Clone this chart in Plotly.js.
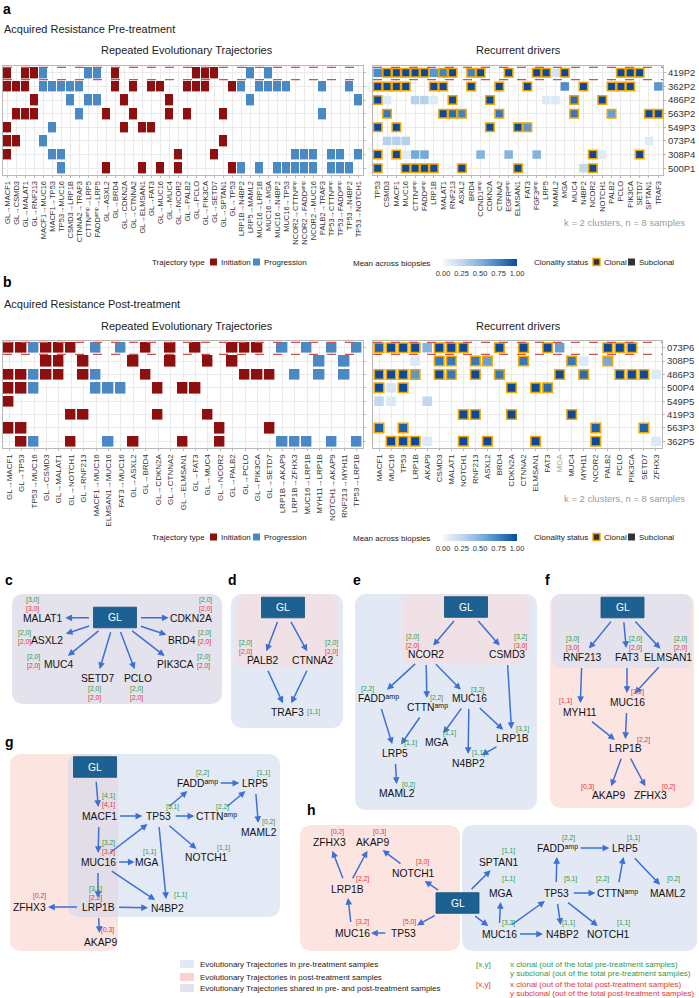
<!DOCTYPE html>
<html><head><meta charset="utf-8">
<script src="https://cdn.plot.ly/plotly-3.0.1.min.js"></script>
<style>html,body{margin:0;padding:0;background:#fff;}#chart{width:699px;height:998px;}</style>
</head><body><div id="chart"></div>
<script>
const _ = null;
const AMPSUP = 'ᵃᵐᵖ';
// ================= DATA =================
// ---- panel a : pre-treatment ----
const preSamples = ['419P2','362P2','486P2','563P2','549P3','073P4','308P4','500P1'];
const preTrajectories = ['GL→MACF1','GL→CSMD3','GL→MALAT1','GL→RNF213','MACF1→MUC16','MACF1→TP53','TP53→MUC16','CSMD3→LRP1B','CTNNA2→TRAF3','CTTNᵃᵐᵖ→LRP5','FADDᵃᵐᵖ→LRP5','GL→ASXL2','GL→BRD4','GL→CDKN2A','GL→CTNNA2','GL→ELMSAN1','GL→FAT3','GL→MUC16','GL→MUC4','GL→NCOR2','GL→PALB2','GL→PCLO','GL→PIK3CA','GL→SETD7','GL→SPTAN1','GL→TP53','LRP1B→N4BP2','LRP5→MAML2','MUC16→LRP1B','MUC16→MGA','MUC16→N4BP2','MUC16→TP53','NCOR2→CTTNᵃᵐᵖ','NCOR2→FADDᵃᵐᵖ','NCOR2→MUC16','PALB2→TRAF3','TP53→CTTNᵃᵐᵖ','TP53→FADDᵃᵐᵖ','TP53→N4BP2','TP53→NOTCH1'];
const preTrajPresence = [
 [1,0,1,1,1,0,0,0,0,1, 1,0,1,0,0,0,0,0,0,0, 0,1,1,1,0,0,0,1,0,1, 0,0,0,0,0,0,0,0,0,0],
 [1,1,1,0,1,1,1,1,1,0, 0,0,1,0,1,0,1,1,0,0, 1,1,1,0,0,1,1,0,1,1, 1,1,0,0,0,1,0,0,1,0],
 [0,0,0,1,0,0,0,1,0,1, 1,0,0,1,0,0,0,0,1,0, 0,0,0,0,0,0,0,1,0,0, 0,0,0,0,0,0,0,0,0,1],
 [0,1,1,1,0,0,0,0,1,0, 0,1,0,0,1,0,0,0,1,0, 1,0,0,0,1,0,0,0,0,0, 0,0,0,0,0,1,0,0,0,0],
 [1,0,0,0,0,1,0,0,0,0, 0,0,0,1,0,1,1,0,0,0, 0,0,0,0,0,0,0,0,0,0, 0,0,0,0,0,0,0,0,0,0],
 [1,1,0,0,1,0,0,0,0,0, 0,0,0,0,0,0,0,0,0,0, 0,0,0,0,1,0,0,0,0,0, 0,0,0,0,0,0,0,0,0,0],
 [1,0,0,0,0,1,1,0,0,0, 0,0,0,0,0,0,0,0,0,1, 0,0,0,1,0,0,0,0,0,0, 0,0,1,1,1,0,1,1,0,1],
 [0,0,0,0,0,0,1,0,0,0, 0,1,0,0,0,1,0,1,0,1, 0,0,0,0,0,1,1,0,1,0, 1,1,1,1,1,0,1,1,1,0]
];
const preDrivers = ['TP53','CSMD3','MACF1','MUC16','CTTNᵃᵐᵖ','FADDᵃᵐᵖ','LRP1B','MALAT1','RNF213','ASXL2','BRD4','CCND1ᵃᵐᵖ','CDKN2A','CTNNA2','EGFRᵃᵐᵖ','ELMSAN1','FAT3','FGF3ᵃᵐᵖ','LRP5','MAML2','MGA','MUC4','N4BP2','NCOR2','NOTCH1','PALB2','PCLO','PIK3CA','SETD7','SPTAN1','TRAF3'];
const preDriverMean = [
 [.7,1,1,1,1,1,.65,.75,1,_, .75,1,_,_,1,_,_,1,1,.15, 1,_,_,_,_,_,1,1,1,_, _],
 [1,1,1,1,_,_,1,1,_,_, 1,_,_,1,_,_,1,_,_,_, .7,_,1,_,_,1,1,1,_,_, .65],
 [1,.12,_,_,.3,.3,.12,_,1,_, _,_,1,_,_,_,_,_,.12,.12, _,.85,_,_,1,_,_,_,_,_, _],
 [_,.8,_,_,_,_,_,1,.85,.75, _,_,_,.8,_,_,_,_,_,_, _,.8,_,_,_,.6,_,_,_,1, 1],
 [1,_,1,_,_,_,_,_,_,_, _,_,1,_,_,1,.65,_,_,_, _,_,_,_,_,_,_,_,_,_, _],
 [_,.3,.3,.3,_,_,_,_,_,_, _,_,_,_,_,_,_,_,_,_, _,_,_,_,_,_,_,_,_,.1, _],
 [1,_,1,.1,.55,.55,_,_,_,_, _,.5,_,_,.5,_,_,.5,_,_, _,_,_,1,.1,_,_,_,1,_, _],
 [1,_,_,1,1,1,1,_,_,1, _,_,_,_,_,1,_,_,_,_, _,_,.25,1,_,_,_,_,_,_, _]
];
const preDriverClonal = [
 [0,1,1,1,1,1,0,1,1,0, 1,1,0,0,1,0,0,1,1,0, 1,0,0,0,0,0,1,1,1,0, 0],
 [1,1,1,1,0,0,1,1,0,0, 1,0,0,1,0,0,1,0,0,0, 0,0,1,0,0,1,1,1,0,0, 0],
 [1,0,0,0,0,0,0,0,1,0, 0,0,1,0,0,0,0,0,0,0, 0,1,0,0,1,0,0,0,0,0, 0],
 [0,1,0,0,0,0,0,1,1,1, 0,0,0,1,0,0,0,0,0,0, 0,1,0,0,0,1,0,0,0,1, 1],
 [1,0,1,0,0,0,0,0,0,0, 0,0,1,0,0,1,1,0,0,0, 0,0,0,0,0,0,0,0,0,0, 0],
 [0,0,0,0,0,0,0,0,0,0, 0,0,0,0,0,0,0,0,0,0, 0,0,0,0,0,0,0,0,0,0, 0],
 [1,0,1,0,0,0,0,0,0,0, 0,0,0,0,0,0,0,0,0,0, 0,0,0,1,0,0,0,0,1,0, 0],
 [1,0,0,1,1,1,1,0,0,1, 0,0,0,0,0,1,0,0,0,0, 0,0,0,1,0,0,0,0,0,0, 0]
];
// ---- panel b : post-treatment ----
const postSamples = ['073P6','308P5','486P3','500P4','549P5','419P3','563P3','362P5'];
const postTrajectories = ['GL→MACF1','GL→TP53','TP53→MUC16','GL→CSMD3','GL→MALAT1','GL→NOTCH1','GL→RNF213','MACF1→MUC16','ELMSAN1→MUC16','FAT3→MUC16','GL→ASXL2','GL→BRD4','GL→CDKN2A','GL→CTNNA2','GL→ELMSAN1','GL→FAT3','GL→MUC4','GL→NCOR2','GL→PALB2','GL→PCLO','GL→PIK3CA','GL→SETD7','LRP1B→AKAP9','LRP1B→ZFHX3','MUC16→LRP1B','MYH11→LRP1B','NOTCH1→AKAP9','RNF213→MYH11','TP53→LRP1B'];
const postTrajPresence = [
 [1,1,1,1,1,1,0,1,0,1, 0,1,0,1,0,1,0,0,1,1, 1,0,1,0,1,0,1,0,1],
 [0,0,0,1,1,0,1,0,0,0, 1,0,0,1,0,0,1,0,1,0, 0,0,0,0,0,1,0,1,0],
 [1,1,1,1,1,0,1,1,0,0, 0,1,0,0,0,0,0,0,0,1, 1,1,0,1,0,1,0,1,0],
 [1,1,1,0,0,0,0,1,1,1, 0,0,1,0,1,1,0,0,0,0, 0,0,0,0,0,0,0,0,0],
 [1,0,0,0,0,0,0,0,0,0, 0,0,0,0,0,0,0,0,0,0, 0,0,0,0,0,0,0,0,0],
 [0,0,0,0,0,1,1,0,0,0, 0,0,1,0,0,0,1,0,0,0, 0,0,0,0,0,0,0,0,0],
 [1,1,0,0,0,0,0,0,0,0, 0,0,0,0,0,0,0,1,0,0, 0,1,0,0,0,0,0,0,0],
 [0,1,1,0,0,1,0,0,1,0, 1,0,0,0,1,0,0,1,0,0, 0,0,1,1,1,0,1,0,1]
];
const postDrivers = ['MACF1','MUC16','TP53','LRP1B','AKAP9','CSMD3','MALAT1','NOTCH1','RNF213','ASXL2','BRD4','CDKN2A','CTNNA2','ELMSAN1','FAT3','MGA','MUC4','MYH11','NCOR2','PALB2','PCLO','PIK3CA','SETD7','ZFHX3'];
const postDriverMean = [
 [.9,1,1,1,.5,1,1,1,_,_, 1,_,1,_,1,.6,_,_,_,1, 1,1,_,_],
 [_,_,_,.12,_,.8,.8,_,.8,.6, _,_,.8,_,_,_,.8,.12,_,.55, _,_,_,_],
 [1,1,1,.65,_,1,.8,_,1,_, .8,_,_,_,_,1,_,.85,_,_, 1,1,1,.12],
 [1,.15,1,_,_,_,_,_,_,_, _,1,_,1,.85,_,_,_,_,_, _,_,_,_],
 [.25,.12,_,_,.25,_,_,_,_,_, _,_,_,_,_,_,_,_,_,_, _,_,_,_],
 [_,_,_,_,_,_,_,1,1,_, _,1,_,_,_,_,1,_,_,_, _,_,_,_],
 [.9,_,.9,_,_,_,_,_,_,_, _,_,_,_,_,_,_,_,.9,_, _,_,.9,_],
 [_,1,1,1,.12,_,_,1,_,1, _,_,_,1,_,_,_,_,1,_, _,_,_,.12]
];
const postDriverClonal = [
 [1,1,1,1,0,1,1,1,0,0, 1,0,1,0,1,0,0,0,0,1, 1,1,0,0],
 [0,0,0,0,0,1,1,0,1,1, 0,0,1,0,0,0,1,0,0,1, 0,0,0,0],
 [1,1,1,1,0,1,1,0,1,0, 1,0,0,0,0,1,0,1,0,0, 1,1,1,0],
 [1,0,1,0,0,0,0,0,0,0, 0,1,0,1,1,0,0,0,0,0, 0,0,0,0],
 [0,0,0,0,0,0,0,0,0,0, 0,0,0,0,0,0,0,0,0,0, 0,0,0,0],
 [0,0,0,0,0,0,0,1,1,0, 0,1,0,0,0,0,1,0,0,0, 0,0,0,0],
 [1,0,1,0,0,0,0,0,0,0, 0,0,0,0,0,0,0,0,1,0, 0,0,1,0],
 [0,1,1,1,0,0,0,1,0,1, 0,0,0,1,0,0,0,0,1,0, 0,0,0,0]
];
// ---- networks c-h: edges and [clonal, subclonal] counts ----
const cEdges = [['GL','MALAT1'],['GL','CDKN2A'],['GL','ASXL2'],['GL','BRD4'],['GL','MUC4'],['GL','PIK3CA'],['GL','SETD7'],['GL','PCLO']];
const cCountNodes = ['MALAT1','CDKN2A','ASXL2','BRD4','MUC4','PIK3CA','SETD7','PCLO'];
const cPre  = [[3,0],[2,0],[2,0],[2,0],[2,0],[2,0],[2,0],[2,0]];
const cPost = [[3,0],[2,0],[2,0],[2,0],[2,0],[2,0],[2,0],[2,0]];
const dEdges = [['GL','PALB2'],['GL','CTNNA2'],['PALB2','TRAF3'],['CTNNA2','TRAF3']];
const dCountNodes = ['PALB2','CTNNA2','TRAF3'];
const dPre  = [[2,0],[2,0],[1,1]];
const dPost = [[2,0],[2,0],_];
const eEdges = [['GL','NCOR2'],['GL','CSMD3'],['NCOR2','FADD'],['NCOR2','CTTN'],['NCOR2','MUC16'],['CSMD3','LRP1B'],['FADD','LRP5'],['CTTN','LRP5'],['MUC16','MGA'],['MUC16','N4BP2'],['MUC16','LRP1B'],['LRP1B','N4BP2'],['LRP5','MAML2']];
const eCountNodes = ['NCOR2','CSMD3','FADD','CTTN','MUC16','LRP5','MGA','LRP1B','N4BP2','MAML2'];
const ePre  = [[2,0],[3,2],[2,2],[2,2],[3,2],[1,1],[1,1],[3,1],[1,1],[0,2]];
const ePost = [[2,0],[3,0],_,_,_,_,_,_,_,_];
const fEdges = [['GL','RNF213'],['GL','FAT3'],['GL','ELMSAN1'],['RNF213','MYH11'],['FAT3','MUC16'],['ELMSAN1','MUC16'],['MYH11','LRP1B'],['MUC16','LRP1B'],['LRP1B','AKAP9'],['LRP1B','ZFHX3']];
const fCountNodes = ['RNF213','FAT3','ELMSAN1','MYH11','MUC16','LRP1B','AKAP9','ZFHX3'];
const fPre  = [[3,0],[2,0],[2,0],_,_,_,_,_];
const fPost = [[3,0],[2,0],[2,0],[1,1],[3,2],[2,2],[0,3],[0,2]];
const gEdges = [['GL','MACF1'],['MACF1','TP53'],['MACF1','MUC16'],['TP53','FADD'],['TP53','CTTN'],['FADD','LRP5'],['CTTN','LRP5'],['LRP5','MAML2'],['MUC16','TP53'],['MUC16','MGA'],['MUC16','N4BP2'],['MUC16','LRP1B'],['TP53','NOTCH1'],['TP53','N4BP2'],['LRP1B','N4BP2'],['LRP1B','ZFHX3'],['LRP1B','AKAP9']];
const gCountNodes = ['MACF1','TP53','FADD','LRP5','CTTN','MAML2','MUC16','MGA','NOTCH1','LRP1B','N4BP2','ZFHX3','AKAP9'];
const gPre  = [[4,1],[5,1],[2,2],[1,1],[2,2],[0,2],[3,2],[1,1],[1,1],[3,1],[1,1],_,_];
const gPost = [[4,1],_,_,_,_,_,[3,2],_,_,[2,2],_,[0,2],[0,3]];
const hEdges = [['GL','TP53_L'],['TP53_L','MUC16_L'],['MUC16_L','LRP1B'],['LRP1B','ZFHX3'],['LRP1B','AKAP9'],['GL','NOTCH1_L'],['NOTCH1_L','AKAP9'],['GL','SPTAN1'],['GL','MUC16'],['MUC16','MGA'],['MUC16','TP53'],['MUC16','N4BP2'],['TP53','FADD'],['TP53','CTTN'],['TP53','N4BP2'],['TP53','NOTCH1'],['FADD','LRP5'],['CTTN','LRP5'],['LRP5','MAML2']];
const hCountNodes = ['ZFHX3','AKAP9','NOTCH1_L','LRP1B','MUC16_L','TP53_L','SPTAN1','FADD','LRP5','MGA','TP53','CTTN','MAML2','MUC16','N4BP2','NOTCH1'];
const hPre  = [_,_,_,_,_,_,[1,1],[2,2],[1,1],[1,1],[5,1],[2,2],[0,2],[3,2],[1,1],[1,1]];
const hPost = [[0,2],[0,3],[3,0],[2,2],[3,2],[5,0],_,_,_,_,_,_,_,_,_,_];

// ================= LAYOUT (positions in page pixels) =================
const cPos = {GL:[115,617.5],MALAT1:[43,618],CDKN2A:[191,618],ASXL2:[47,640],BRD4:[182,640],MUC4:[58,664],PIK3CA:[175,664],SETD7:[97,678],PCLO:[138,678]};
const cCountPos = [[32,600],[205,600],[24,633],[204,633],[33,657],[203,657],[94,689],[136,689]];
const dPos = {GL:[283,607.5],PALB2:[263,660],CTNNA2:[312,660],TRAF3:[287,712]};
const dCountPos = [[245,643],[331,643],[313,712]];
const ePos = {GL:[466,607],NCOR2:[426,654],CSMD3:[507,654],FADD:[378,698],CTTN:[427,707],MUC16:[469,698],LRP5:[395,753],MGA:[437,742],LRP1B:[512,738],N4BP2:[468,763],MAML2:[397,793]};
const eCountPos = [[412,637],[520,637],[367,689],[436,698],[477,690],[410,743],[449,733],[522,729],[478,753],[408,785]];
const fPos = {GL:[622.5,607.5],RNF213:[582,657],FAT3:[627,657],ELMSAN1:[668,657],MYH11:[580,712],MUC16:[627,702],LRP1B:[625,748],AKAP9:[608,795],ZFHX3:[650,795]};
const fCountPos = [[572,639],[635,639],[680,639],[565,701],[637,692],[643,740],[587,787],[668,787]];
const gPos = {GL:[95,767],MACF1:[99,816],TP53:[158,816],FADD:[197,783],LRP5:[255,783],CTTN:[216,816],MAML2:[259,832],MUC16:[98,862],MGA:[147,862],NOTCH1:[206,857],LRP1B:[98,907],N4BP2:[167,908],ZFHX3:[29,907],AKAP9:[100,942]};
const gCountPos = [[108,796],[172,807],[202,773],[263,773],[222,807],[268,822],[108,843],[149,852],[223,848],[95,889],[180,895],[39,896],[107,930]];
const hPos = {GL:[457.5,903],ZFHX3:[329,842],AKAP9:[372,842],NOTCH1_L:[413,873],LRP1B:[347,889],MUC16_L:[352,933],TP53_L:[403,933],SPTAN1:[499,862],FADD:[557,848],LRP5:[625,848],MGA:[501,893],TP53:[556,893],CTTN:[617,893],MAML2:[668,893],MUC16:[499,934],N4BP2:[562,934],NOTCH1:[608,934]};
const hCountPos = [[337,832],[379,832],[422,862],[362,879],[362,922],[409,922],[508,851],[568,838],[633,838],[508,879],[570,879],[602,879],[673,879],[508,923],[568,923],[623,923]];

// ================= STYLE =================
const W = 699, H = 998;
const FONT = '"Liberation Sans", Arial, Helvetica, "DejaVu Sans", sans-serif';
const RED = '#8E0F0F', BLUE = '#4A89C4', ORANGE = '#F3A600';
const BLUES = [[0,'#F4F8FD'],[0.25,'#C2D8EF'],[0.5,'#84B3DD'],[0.75,'#3F83C3'],[1,'#0B4A9A']];
const PRE_BG = '#E2E9F5', POST_BG = '#FCE4E1', SHARED_BG = '#E4E2EC', INNER_PINK = '#F0E1E6';
const ARROW = '#3D70D6', GLC = '#1C6191', GREEN_T = '#2E9A4E', RED_T = '#E2363A';
const px = x => x / W, py = y => 1 - y / H;
const annotations = [], shapes = [];

function T(x, y, text, size, color, xanchor, extra) {
  annotations.push(Object.assign({x, y, xref:'x5', yref:'y5', text, showarrow:false,
    xanchor: xanchor || 'left', yanchor:'middle', font:{family:FONT, size, color}}, extra || {}));
}
function box(x0, y0, x1, y1, fill, lc, lw) {
  shapes.push({type:'rect', xref:'x5', yref:'y5', x0, y0, x1, y1, fillcolor:fill, line:{color:lc || fill, width:lw || 0}});
}
function rr(x0, y0, x1, y1, fill, r) {
  r = r || 10;
  const p = `M${x0+r},${y0} L${x1-r},${y0} Q${x1},${y0} ${x1},${y0+r} L${x1},${y1-r} Q${x1},${y1} ${x1-r},${y1} L${x0+r},${y1} Q${x0},${y1} ${x0},${y1-r} L${x0},${y0+r} Q${x0},${y0} ${x0+r},${y0} Z`;
  shapes.push({type:'path', xref:'x5', yref:'y5', path:p, fillcolor:fill, line:{width:0}, layer:'below'});
}

// ---------- heatmap traces ----------
function trajTrace(labels, presence, xa, ya, xgap, ygap) {
  const z = presence.map(row => row.map((v, j) => v ? (labels[j].startsWith('GL') ? 1 : 2) : null));
  return {type:'heatmap', z, x: labels.map((l, i) => i), y: presence.map((r, i) => i), xaxis:xa, yaxis:ya,
    colorscale:[[0,RED],[0.5,RED],[0.5,BLUE],[1,BLUE]], zmin:1, zmax:2, showscale:false,
    xgap, ygap, hoverinfo:'skip'};
}
function driverTrace(mean, clonal, xa, ya, size, cbTop) {
  const x = [], y = [], c = [], lw = [];
  mean.forEach((row, i) => row.forEach((v, j) => {
    if (v !== null) { x.push(j); y.push(i); c.push(v); lw.push(clonal[i][j] ? 1.6 : 0); }
  }));
  return {type:'scatter', mode:'markers', x, y, xaxis:xa, yaxis:ya, hoverinfo:'skip', showlegend:false,
    marker:{symbol:'square', size, color:c, cmin:0, cmax:1, colorscale:BLUES,
      line:{color:ORANGE, width:lw}, showscale:true,
      colorbar:{orientation:'h', x:px(443), xanchor:'left', y:py(cbTop), yanchor:'top',
        len:74, lenmode:'pixels', thickness:7, thicknessmode:'pixels', xpad:0, ypad:0,
        outlinewidth:0, tickvals:[0,.25,.5,.75,1], ticktext:['0.00','0.25','0.50','0.75','1.00'],
        tickfont:{family:FONT, size:7.5, color:'#333'}, ticks:''}}};
}
function hx(x0, x1, labels, anchor, fs) {
  return {domain:[px(x0), px(x1)], range:[-0.5, labels.length - 0.5], tickmode:'array',
    tickvals: labels.map((l, i) => i), ticktext: labels, tickangle:-90,
    tickfont:{family:FONT, size:fs, color:'#333'}, showgrid:true, gridcolor:'#EBEBEB', gridwidth:1,
    zeroline:false, showline:true, mirror:true, linecolor:'#B8B8B8', linewidth:1,
    ticks:'outside', ticklen:2, tickcolor:'#B8B8B8', anchor, fixedrange:true, automargin:false};
}
function hy(y0, y1, labels, showLabels, anchor) {
  return {domain:[py(y1), py(y0)], range:[labels.length - 0.5, -0.5], tickmode:'array',
    tickvals: labels.map((l, i) => i), ticktext: labels, showticklabels: showLabels, side:'right',
    tickfont:{family:FONT, size:9.5, color:'#333'}, showgrid:true, gridcolor:'#EBEBEB', gridwidth:1,
    zeroline:false, showline:true, mirror:true, linecolor:'#B8B8B8', linewidth:1,
    ticks:'outside', ticklen:2, tickcolor:'#B8B8B8', anchor, fixedrange:true, automargin:false};
}
function dashes(xa, ya) {
  [-0.4, 0.5].forEach(v => shapes.push({type:'line', xref:xa + ' domain', yref:ya, x0:0, x1:1, y0:v, y1:v,
    line:{color:'#D0524C', width:1.1, dash:'dash'}}));
}
dashes('x', 'y'); dashes('x2', 'y2'); dashes('x3', 'y3'); dashes('x4', 'y4');

const postDriverTicks = postDrivers.map(d => d === 'MGA' ? '<span style="color:#A0A0A0">MGA</span>' : d);

const traces = [
  trajTrace(preTrajectories, preTrajPresence, 'x', 'y', 1, 2.6),
  driverTrace(preDriverMean, preDriverClonal, 'x2', 'y2', 8.5, 259),
  trajTrace(postTrajectories, postTrajPresence, 'x3', 'y3', 1.6, 2.4),
  driverTrace(postDriverMean, postDriverClonal, 'x4', 'y4', 9.5, 534),
  {type:'scatter', mode:'markers', x:[0], y:[0], xaxis:'x5', yaxis:'y5', marker:{opacity:0}, hoverinfo:'skip', showlegend:false}
];

// ---------- heatmap text ----------
T(1, 9, '<b>a</b>', 14, '#000');
T(2, 29, 'Acquired Resistance Pre-treatment', 11, '#222');
T(187, 50, 'Repeated Evolutionary Trajectories', 11, '#222', 'center');
T(518, 50, 'Recurrent drivers', 11, '#222', 'center');
T(1, 282, '<b>b</b>', 14, '#000');
T(2, 304, 'Acquired Resistance Post-treatment', 11, '#222');
T(187, 326, 'Repeated Evolutionary Trajectories', 11, '#222', 'center');
T(518, 326, 'Recurrent drivers', 11, '#222', 'center');
T(687, 222, 'k = 2 clusters, n = 8 samples', 9.5, '#9B9B9B', 'right');
T(687, 498, 'k = 2 clusters, n = 8 samples', 9.5, '#9B9B9B', 'right');
[262, 537].forEach(yy => {
  T(207, yy, 'Trajectory type', 8, '#222', 'right');
  box(210, yy - 3.5, 217, yy + 3.5, RED);
  T(219, yy, 'Initiation', 8, '#222');
  box(253, yy - 3.5, 260, yy + 3.5, BLUE);
  T(262, yy, 'Progression', 8, '#222');
  T(432, yy + 1, 'Mean across biopsies', 8, '#222', 'right');
  T(590, yy, 'Clonality status', 8, '#222', 'right');
  box(593, yy - 3.5, 600, yy + 3.5, '#333', ORANGE, 1.4);
  T(602, yy, 'Clonal', 8, '#222');
  box(628, yy - 3.5, 635, yy + 3.5, '#333');
  T(637, yy, 'Subclonal', 8, '#222');
});

// ---------- networks ----------
const AMP = ['FADD', 'CTTN'];
function nodeName(id) { return id.replace(/_.*$/, ''); }
function nodeLabel(id) { const n = nodeName(id); return AMP.includes(n) ? n + AMPSUP : n; }
function halfSize(id) {
  if (id === 'GL') return [21.5, 10.3];
  const n = nodeName(id);
  return [n.length * 3.3 + (AMP.includes(n) ? 6 : 0), 6.5];
}
function network(pos, edges, countNodes, pre, post, countPos) {
  Object.keys(pos).forEach(id => {
    const [x, y] = pos[id];
    if (id === 'GL') {
      box(x - 21.5, y - 10.3, x + 21.5, y + 10.3, GLC, '#174F78', 0.8);
      T(x, y, 'GL', 10.3, '#fff', 'center');
    } else {
      T(x, y, nodeLabel(id), 10.3, '#111', 'center');
    }
  });
  edges.forEach(([a, b]) => {
    const [x1, y1] = pos[a], [x2, y2] = pos[b];
    const dx = x2 - x1, dy = y2 - y1, L = Math.hypot(dx, dy), ux = dx / L, uy = dy / L;
    const [aw, ah] = halfSize(a), [bw, bh] = halfSize(b);
    const ta = Math.min(dx ? aw / Math.abs(dx) : 1e9, dy ? ah / Math.abs(dy) : 1e9);
    const tb = Math.min(dx ? bw / Math.abs(dx) : 1e9, dy ? bh / Math.abs(dy) : 1e9);
    const sx = x1 + dx * ta + ux * 3, sy = y1 + dy * ta + uy * 3;
    const ex = x2 - dx * tb - ux * 2.5, ey = y2 - dy * tb - uy * 2.5;
    annotations.push({x:ex, y:ey, ax:sx, ay:sy, xref:'x5', yref:'y5', axref:'x5', ayref:'y5',
      text:'', showarrow:true, arrowhead:2, arrowsize:0.9, arrowwidth:1.5, arrowcolor:ARROW});
  });
  countNodes.forEach((n, i) => {
    const [cx, cy] = countPos[i];
    let yy = cy;
    if (pre[i]) { T(cx, yy, '[' + pre[i].join(',') + ']', 6.8, GREEN_T, 'center'); yy += 8.5; }
    if (post[i]) { T(cx, yy, '[' + post[i].join(',') + ']', 6.8, RED_T, 'center'); }
  });
}

// backgrounds
rr(12, 594, 222, 704, SHARED_BG, 12);
rr(231, 594, 343, 728, PRE_BG, 12);
rr(236, 594, 338, 667, INNER_PINK, 10);
rr(355, 594, 537, 810, PRE_BG, 12);
rr(402, 594, 530, 664, INNER_PINK, 10);
rr(550, 594, 694, 808, POST_BG, 12);
rr(552, 594, 692, 668, SHARED_BG, 10);
rr(10, 754, 118, 951, POST_BG, 12);
rr(68, 754, 280, 917, 'rgba(199,213,237,0.5)', 12);
rr(300, 825, 460, 951, POST_BG, 12);
rr(462, 825, 697, 951, PRE_BG, 12);

T(3, 580, '<b>c</b>', 14, '#000');
T(226, 580, '<b>d</b>', 14, '#000');
T(351, 580, '<b>e</b>', 14, '#000');
T(543, 580, '<b>f</b>', 14, '#000');
T(3, 742, '<b>g</b>', 14, '#000');
T(305, 810, '<b>h</b>', 14, '#000');

network(cPos, cEdges, cCountNodes, cPre, cPost, cCountPos);
network(dPos, dEdges, dCountNodes, dPre, dPost, dCountPos);
network(ePos, eEdges, eCountNodes, ePre, ePost, eCountPos);
network(fPos, fEdges, fCountNodes, fPre, fPost, fCountPos);
network(gPos, gEdges, gCountNodes, gPre, gPost, gCountPos);
network(hPos, hEdges, hCountNodes, hPre, hPost, hCountPos);

// bottom legend
box(180, 960, 194, 968, PRE_BG);
T(198, 964, 'Evolutionary Trajectories in pre-treatment samples', 8, '#222');
box(180, 973, 194, 981, '#FBD3CD');
T(198, 977, 'Evolutionary Trajectories in post-treatment samples', 8, '#222');
box(180, 984, 194, 992, SHARED_BG);
T(198, 988, 'Evolutionary Trajectories shared in pre- and post-treatment samples', 8, '#222');
T(483, 964, '[x,y]', 8, GREEN_T, 'center');
T(508, 964, 'x clonal (out of the total pre-treatment samples)', 8, GREEN_T);
T(508, 973.5, 'y subclonal (out of the total pre-treatment samples)', 8, GREEN_T);
T(483, 984, '[x,y]', 8, RED_T, 'center');
T(508, 984, 'x clonal (out of the total post-treatment samples)', 8, RED_T);
T(508, 993, 'y subclonal (out of the total post-treatment samples)', 8, RED_T);

const layout = {
  width:W, height:H, margin:{l:0, r:0, t:0, b:0}, paper_bgcolor:'#fff', plot_bgcolor:'rgba(0,0,0,0)',
  showlegend:false, hovermode:false, font:{family:FONT, size:9, color:'#333'},
  xaxis: hx(3, 363, preTrajectories, 'y', 7.5),
  yaxis: hy(66, 175, preSamples, false, 'x'),
  xaxis2: hx(373, 663, preDrivers, 'y2', 7.5),
  yaxis2: hy(66, 175, preSamples, true, 'x2'),
  xaxis3: hx(3, 363, postTrajectories, 'y3', 8),
  yaxis3: hy(341, 448, postSamples, false, 'x3'),
  xaxis4: hx(373, 662, postDriverTicks, 'y4', 8),
  yaxis4: hy(341, 448, postSamples, true, 'x4'),
  xaxis5: {domain:[0,1], range:[0,W], visible:false, fixedrange:true, anchor:'y5'},
  yaxis5: {domain:[0,1], range:[H,0], visible:false, fixedrange:true, anchor:'x5'},
  shapes, annotations
};
Plotly.newPlot('chart', traces, layout, {staticPlot:true, displayModeBar:false});
</script>
</body></html>
